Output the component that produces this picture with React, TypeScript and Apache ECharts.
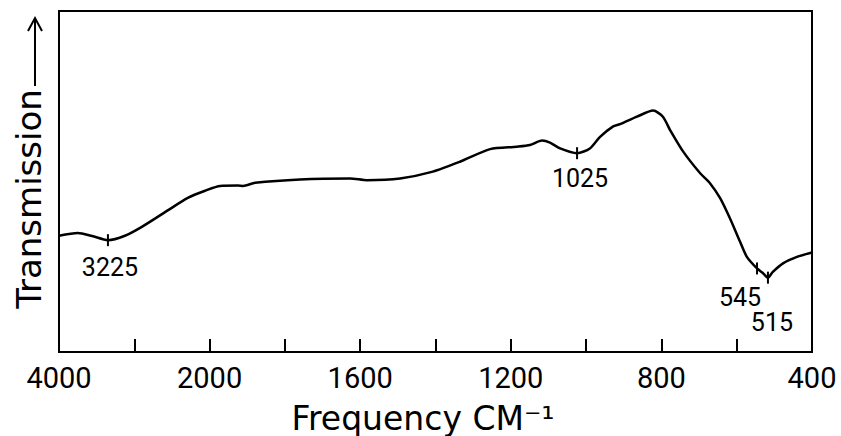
import React, { useEffect, useRef } from "react";
import * as echarts from "echarts";

const wavenumbers = [
  4000, 3750, 3560, 3350, 3125, 2900, 2550, 2290, 2060, 1972, 1925, 1911, 1879, 1760, 1627, 1582,
  1494, 1407, 1335, 1255, 1184, 1149, 1117, 1096, 1069, 1024, 990, 963, 929, 910, 865, 822, 796,
  777, 743, 697, 671, 644, 618, 591, 573, 546, 530, 517, 504, 477, 440, 400,
];
const transmission = [
  34.1, 34.9, 34.0, 32.8, 34.1, 36.7, 41.6, 45.2, 47.3, 48.7, 48.8, 48.7, 49.6, 50.6, 50.9, 50.4,
  50.9, 52.9, 55.8, 59.5, 60.2, 60.7, 62.0, 61.4, 59.7, 58.3, 59.7, 63.1, 66.1, 66.8, 69.0, 70.8, 69.0,
  65.1, 58.9, 52.4, 49.5, 45.1, 39.2, 32.3, 27.9, 24.5, 23.1, 21.8, 23.5, 26.0, 27.9, 29.2,
];

// Marked bands: printed label and where the mark sits on the axis
const peakLabels = ["3225", "1025", "545", "515"];
const peakWavenumbers = [3350, 1024, 546, 517];

// Axis ticks and labels
const tickWavenumbers = [4000, 3000, 2000, 1800, 1600, 1400, 1200, 1000, 800, 600, 400];
const labeledWavenumbers = [4000, 2000, 1600, 1200, 800, 400];

const xTitle = "Frequency CM⁻¹";
const yTitle = "Transmission";

// Split scale: 4000-2000 at 1000 per division, 2000-400 at 200 per division
const wnToPos = (wn: number) => (wn >= 2000 ? (4000 - wn) / 1000 : 2 + (2000 - wn) / 200);
const posToWn = (p: number) => (p <= 2 ? 4000 - p * 1000 : 2000 - (p - 2) * 200);

const labelOffsets: Record<string, number[]> = {
  "3225": [2, 27],
  "1025": [3, 25],
  "545": [-17, 29],
  "515": [4, 45],
};

export default function App() {
  const ref = useRef<HTMLDivElement>(null);
  useEffect(() => {
    if (!ref.current) return;
    const chart = echarts.init(ref.current, null, { renderer: "svg" });
    const lineData = wavenumbers.map((wn, i) => [wnToPos(wn), transmission[i]]);
    const peakData = peakWavenumbers.map((wn, i) => {
      const idx = wavenumbers.indexOf(wn);
      const lbl = peakLabels[i];
      return {
        value: [wnToPos(wn), transmission[idx]],
        label: { formatter: lbl, offset: labelOffsets[lbl] || [0, 26] },
      };
    });
    const tickPos = tickWavenumbers.map(wnToPos);
    chart.setOption({
      animation: false,
      backgroundColor: "#ffffff",
      grid: {
        left: 59,
        right: 29,
        top: 11,
        bottom: 84,
        show: true,
        borderColor: "#000",
        borderWidth: 2,
        backgroundColor: "transparent",
      },
      xAxis: {
        type: "value",
        min: 0,
        max: 10,
        interval: 1,
        splitLine: { show: false },
        axisLine: { show: true, lineStyle: { color: "#000", width: 2 } },
        axisTick: {
          show: true,
          inside: true,
          length: 13,
          lineStyle: { color: "#000", width: 2 },
        },
        axisLabel: {
          show: true,
          color: "#000",
          fontFamily: "Roboto",
          fontSize: 29,
          margin: 11,
          formatter: (v: number) => {
            const wn = Math.round(posToWn(v));
            return labeledWavenumbers.includes(wn) && tickPos.some((p) => Math.abs(p - v) < 1e-6)
              ? String(wn)
              : "";
          },
        },
      },
      yAxis: {
        type: "value",
        min: 0,
        max: 100,
        splitLine: { show: false },
        axisLine: { show: true, lineStyle: { color: "#000", width: 2 } },
        axisTick: { show: false },
        axisLabel: { show: false },
      },
      series: [
        {
          type: "line",
          data: lineData,
          showSymbol: false,
          smooth: 0.25,
          lineStyle: { color: "#000", width: 2.5 },
          itemStyle: { color: "#000" },
          z: 3,
        },
        {
          type: "scatter",
          data: peakData,
          symbol: "rect",
          symbolSize: [2, 12],
          itemStyle: { color: "#000", opacity: 1 },
          label: {
            show: true,
            position: "inside",
            color: "#000",
            textBorderWidth: 0,
            fontFamily: "Roboto",
            fontSize: 25,
          },
          z: 4,
        },
      ],
      graphic: [
        {
          type: "text",
          x: 29,
          y: 199,
          rotation: Math.PI / 2,
          style: {
            text: yTitle,
            font: '34px "DejaVu Sans"',
            fill: "#000",
            textAlign: "center",
            textVerticalAlign: "middle",
            align: "center",
            verticalAlign: "middle",
          },
        },
        {
          type: "line",
          shape: { x1: 35, y1: 86, x2: 35, y2: 19 },
          style: { stroke: "#000", lineWidth: 2 },
        },
        {
          type: "polyline",
          shape: { points: [[28, 31], [35, 18], [42, 31]] },
          style: { stroke: "#000", lineWidth: 2, fill: "none" },
        },
        {
          type: "text",
          x: 423,
          y: 418,
          style: {
            text: xTitle,
            font: '33px "DejaVu Sans"',
            fill: "#000",
            textAlign: "center",
            textVerticalAlign: "middle",
            align: "center",
            verticalAlign: "middle",
          },
        },
      ],
    });
    return () => chart.dispose();
  }, []);
  return (
    <div
      ref={ref}
      style={{ position: "fixed", left: 0, top: 0, width: 841, height: 436, background: "#fff" }}
    />
  );
}
